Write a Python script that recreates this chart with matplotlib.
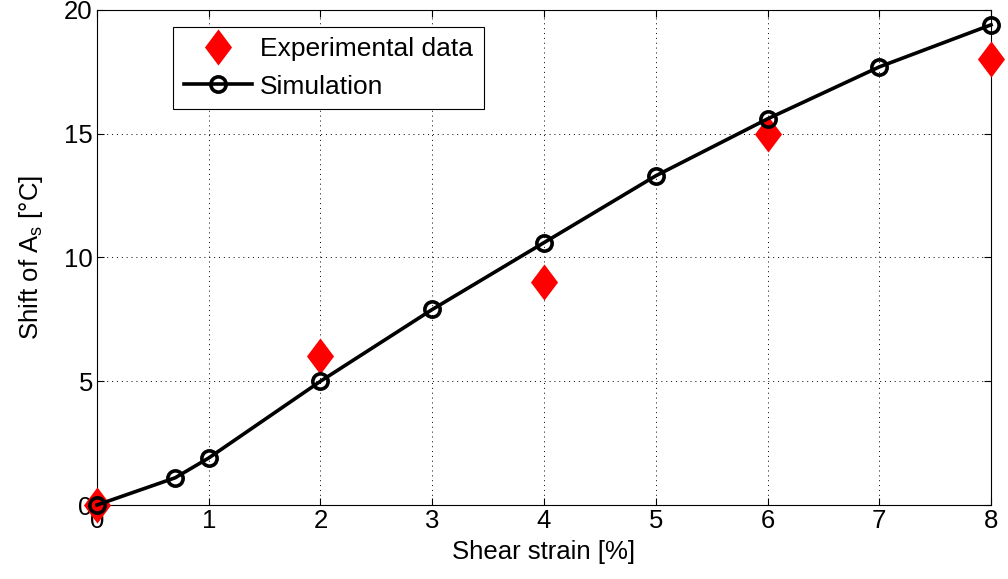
import matplotlib
matplotlib.use("Agg")
import matplotlib.pyplot as plt
from matplotlib.path import Path

# data
sim_strain = [0, 0.7, 1, 2, 3, 4, 5, 6, 7, 8]
sim_shift = [0, 1.1, 1.9, 5.0, 7.9, 10.6, 13.3, 15.6, 17.7, 19.4]
exp_strain = [0, 2, 4, 6, 8]
exp_shift = [0, 6, 9, 15, 18]

plt.rcParams['font.family'] = ['Liberation Sans', 'DejaVu Sans']
plt.rcParams['mathtext.fontset'] = 'custom'
plt.rcParams['mathtext.rm'] = 'Liberation Sans'

# taller-than-wide diamond like MATLAB's
diamond = Path([(0, 1), (0.75, 0), (0, -1), (-0.75, 0), (0, 1)],
               [Path.MOVETO, Path.LINETO, Path.LINETO, Path.LINETO, Path.CLOSEPOLY])

fs = 18.5

fig = plt.figure(figsize=(10.08, 5.79), dpi=100)
ax = fig.add_axes([0.0962, 0.1278, 0.887, 0.855])

ax.plot(exp_strain, exp_shift, linestyle='none', marker=diamond, markersize=26,
        color='red', markeredgewidth=0, label='Experimental data', clip_on=False, zorder=3)
ax.plot(sim_strain, sim_shift, color='black', linewidth=2.6, marker='o', markersize=11,
        markerfacecolor='none', markeredgewidth=2.6, label='Simulation', clip_on=False, zorder=4)

ax.set_xlim(0, 8)
ax.set_ylim(0, 20)
ax.set_xticks(range(0, 9))
ax.set_yticks([0, 5, 10, 15, 20])
ax.tick_params(direction='in', length=5, labelsize=fs, width=0.8, top=True, right=True, pad=3)
ax.grid(True, linestyle=(0, (1, 4)), color='black', linewidth=0.7)
ax.set_xlabel('Shear strain [%]', fontsize=fs, labelpad=5)
ax.set_ylabel('Shift of A$_\\mathregular{s}$ [°C]', fontsize=fs, labelpad=14)
for s in ax.spines.values():
    s.set_linewidth(0.8)

leg = ax.legend(loc='upper left', bbox_to_anchor=(0.085, 0.966), fontsize=fs + 0.5, fancybox=False,
                edgecolor='black', framealpha=1, handlelength=2.6, borderpad=0.4,
                labelspacing=0.5, handletextpad=0.3, borderaxespad=0)
leg.get_frame().set_linewidth(0.8)

fig.savefig('out.png', dpi=100)
